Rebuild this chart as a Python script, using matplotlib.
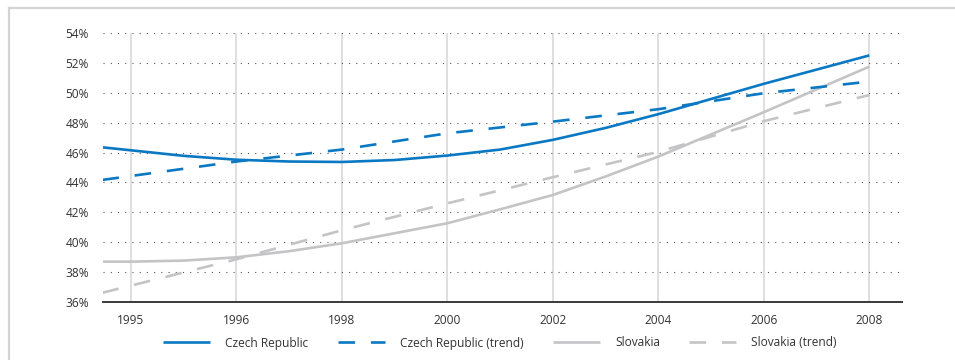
import matplotlib
matplotlib.use("Agg")
import matplotlib.pyplot as plt
from matplotlib.lines import Line2D

plt.rcParams['font.family'] = ['Open Sans', 'DejaVu Sans']

# Axis categories (evenly spaced label slots)
tick_labels = ['1995', '1996', '1998', '2000', '2002', '2004', '2006', '2008']
y_ticks = [36, 38, 40, 42, 44, 46, 48, 50, 52, 54]

# Series, sampled along the label slots
cz_x = [-0.27, 0, 0.5, 1, 1.5, 2, 2.5, 3, 3.5, 4, 4.5, 5, 6, 7]
cz_y = [46.35, 46.15, 45.78, 45.52, 45.4, 45.37, 45.5, 45.8, 46.2, 46.85, 47.65, 48.57, 50.6, 52.5]

cz_trend_x = [-0.27, 1, 2, 3, 4, 5, 6, 7]
cz_trend_y = [44.17, 45.4, 46.2, 47.29, 48.07, 48.9, 49.97, 50.75]

sk_x = [-0.27, 0, 0.5, 1, 1.5, 2, 2.5, 3, 3.5, 4, 4.5, 5, 6, 7]
sk_y = [38.7, 38.7, 38.77, 38.99, 39.4, 39.93, 40.6, 41.27, 42.2, 43.16, 44.4, 45.73, 48.7, 51.75]

sk_trend_x = [-0.27, 1, 2, 3, 4, 5, 6, 7]
sk_trend_y = [36.62, 38.86, 40.8, 42.6, 44.35, 46.05, 48.1, 49.85]

BLUE = '#0a78c2'
GREY = '#c4c4c6'
TEXT = '#333333'
LW = 1.9
DASH = (6.3, 6.0)

fig = plt.figure(figsize=(9.55, 3.6), dpi=100)
ax = fig.add_axes([103 / 955, 1 - 302 / 360, (902 - 103) / 955, (302 - 33) / 360])

ax.plot(cz_x, cz_y, color=BLUE, lw=LW, solid_capstyle='butt', zorder=4)
ax.plot(cz_trend_x, cz_trend_y, color=BLUE, lw=LW, dashes=DASH, dash_capstyle='butt', zorder=4)
ax.plot(sk_x, sk_y, color=GREY, lw=LW, solid_capstyle='butt', zorder=3)
ax.plot(sk_trend_x, sk_trend_y, color=GREY, lw=LW, dashes=DASH, dash_capstyle='butt', zorder=3)

ax.set_xlim(-0.265, 7.31)
ax.set_ylim(36, 54)

ax.set_xticks(range(len(tick_labels)))
ax.set_xticklabels(tick_labels)
ax.set_yticks(y_ticks)
ax.set_yticklabels([f'{v}%' for v in y_ticks])

ax.tick_params(axis='both', length=0, labelsize=8.6, colors=TEXT)
ax.tick_params(axis='x', pad=9)
ax.tick_params(axis='y', pad=10)

for s in ['left', 'right', 'top']:
    ax.spines[s].set_visible(False)
ax.spines['bottom'].set_color('#3a3a3a')
ax.spines['bottom'].set_linewidth(1.4)

# vertical solid grid, horizontal dotted grid
for i in range(len(tick_labels)):
    ax.axvline(i, color='#dcdcdc', lw=1.3, zorder=1)
for v in y_ticks[1:]:
    ax.axhline(v, color='#555555', lw=0.8, dashes=(1.0, 5.5), zorder=1)

# outer frame: top and left edges
fig.add_artist(Line2D([9 / 955, 1], [1 - 8 / 360, 1 - 8 / 360], transform=fig.transFigure,
                      color='#d4d4d4', lw=1.6))
fig.add_artist(Line2D([9 / 955, 9 / 955], [0, 1 - 8 / 360], transform=fig.transFigure,
                      color='#d4d4d4', lw=1.6))

handles = [
    Line2D([], [], color=BLUE, lw=LW, solid_capstyle='butt'),
    Line2D([], [], color=BLUE, lw=LW, dashes=DASH, dash_capstyle='butt'),
    Line2D([], [], color=GREY, lw=LW, solid_capstyle='butt'),
    Line2D([], [], color=GREY, lw=LW, dashes=DASH, dash_capstyle='butt'),
]
labels = ['Czech Republic', 'Czech Republic (trend)', 'Slovakia', 'Slovakia (trend)']
leg = fig.legend(handles, labels, loc='center', bbox_to_anchor=(500 / 955, 1 - 343 / 360),
                 ncol=4, frameon=False, fontsize=8.6, handlelength=3.95,
                 handletextpad=1.26, columnspacing=2.45, borderpad=0)
for t in leg.get_texts():
    t.set_color(TEXT)

fig.savefig('out.png', dpi=100)
